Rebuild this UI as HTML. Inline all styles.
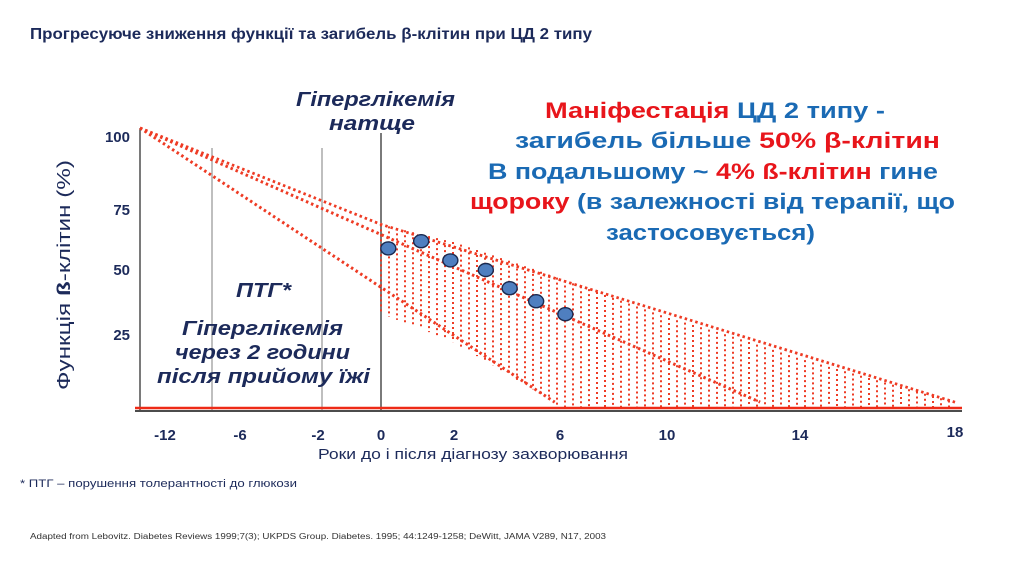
<!DOCTYPE html>
<html><head><meta charset="utf-8"><style>
html,body{margin:0;padding:0;background:#fff;}
svg{display:block;font-family:"Liberation Sans","DejaVu Sans",sans-serif;}
</style></head><body>
<svg id="chart" width="1024" height="574" viewBox="0 0 1024 574">
<text x="30" y="39" font-size="16" font-weight="bold" fill="#1c2a5a" textLength="562" lengthAdjust="spacingAndGlyphs">Прогресуюче зниження функції та загибель β-клітин при ЦД 2 типу</text>
<g id="grid"></g>
<g id="marks"></g>
<g id="axes"></g>
<text transform="translate(70,275) rotate(-90)" text-anchor="middle" font-size="18" fill="#1c2a5a" textLength="230" lengthAdjust="spacingAndGlyphs">Функція <tspan font-weight="bold">ß</tspan>-клітин (%)</text>
<text x="318" y="459" font-size="15" fill="#1c2a5a" textLength="310" lengthAdjust="spacingAndGlyphs">Роки до і після діагнозу захворювання</text>
<g font-size="20" font-weight="bold" font-style="italic" fill="#1c2a5a">
<text x="296" y="106" textLength="159" lengthAdjust="spacingAndGlyphs">Гіперглікемія</text><text x="329" y="130" textLength="86" lengthAdjust="spacingAndGlyphs">натще</text></g>
<g font-size="20" font-weight="bold" font-style="italic" fill="#1c2a5a">
<text x="236" y="297" textLength="55" lengthAdjust="spacingAndGlyphs">ПТГ*</text><text x="182" y="335" textLength="161" lengthAdjust="spacingAndGlyphs">Гіперглікемія</text><text x="175" y="359" textLength="175" lengthAdjust="spacingAndGlyphs">через 2 години</text><text x="157" y="383" textLength="213" lengthAdjust="spacingAndGlyphs">після прийому їжі</text></g>
<g font-size="22" font-weight="bold" fill="#1a6ab4">
<text x="545" y="118" textLength="340" lengthAdjust="spacingAndGlyphs"><tspan fill="#e8151b">Маніфестація</tspan> ЦД 2 типу -</text>
<text x="515" y="148" textLength="425" lengthAdjust="spacingAndGlyphs">загибель більше <tspan fill="#e8151b">50% β-клітин</tspan></text>
<text x="488" y="179" textLength="450" lengthAdjust="spacingAndGlyphs">В подальшому ~ <tspan fill="#e8151b">4% ß-клітин</tspan> гине</text>
<text x="470" y="209" textLength="485" lengthAdjust="spacingAndGlyphs"><tspan fill="#e8151b">щороку</tspan> (в залежності від терапії, що</text>
<text x="606" y="240" textLength="209" lengthAdjust="spacingAndGlyphs">застосовується)</text></g>
<text x="20" y="487" font-size="11" fill="#1c2a5a" textLength="277" lengthAdjust="spacingAndGlyphs">* ПТГ – порушення толерантності до глюкози</text>
<text x="30" y="539" font-size="8" fill="#333" textLength="576" lengthAdjust="spacingAndGlyphs">Adapted from Lebovitz. Diabetes Reviews 1999;7(3); UKPDS Group. Diabetes. 1995; 44:1249-1258; DeWitt, JAMA V289, N17, 2003</text>
</svg>
<script>
const xTicks=[-12,-6,-2,0,2,6,10,14,18];
const yTicks=[25,50,75,100];
const pointYears=[0.2,1.1,1.9,3.2,4.1,5.1,6.2];
const pointValues=[59,62,54,50,43,38,33];
const lineStart=[-13,103];
const upperMid=[0,69];
const upperEnd=[18,2];
const middleEnd=[12.8,2];
const lowerEnd=[5.8,2];
const vLines=[-13,-8,-1.5,0];
const xYearsRef=[-13,-12,-8,-6,-2,-1.5,0,2,6,10,14,18];
const xPixRef=[140,165,212,240,318,322,381,454,560,667,800,955];
const yValRef=[0,25,50,75,100,103];
const yPixRef=[408,335,270,210,137,128];
function interp(v,a,b){for(let i=0;i<a.length-1;i++){if(v<=a[i+1]||i==a.length-2){const t=(v-a[i])/(a[i+1]-a[i]);return b[i]+t*(b[i+1]-b[i]);}}}
const X=v=>interp(v,xYearsRef,xPixRef);
const Y=v=>interp(v,yValRef,yPixRef);
const NS="http://www.w3.org/2000/svg";
function mk(tag,parent,attrs){const e=document.createElementNS(NS,tag);for(const k in attrs)e.setAttribute(k,attrs[k]);parent.appendChild(e);return e;}
const grid=document.getElementById('grid'),marks=document.getElementById('marks'),axes=document.getElementById('axes');
vLines.forEach((v,i)=>{const l=mk('line',grid,{x1:X(v),x2:X(v),y1:i==0?128:(i==3?133:148),y2:410,stroke:(i==0||i==3)?'#222':'#aaa','stroke-width':(i==0||i==3)?1.2:1.5});

});
const lineY=(s,e,yr)=>s[1]+(e[1]-s[1])*(yr-s[0])/(e[0]-s[0]);
const x0=X(0),xu=X(upperEnd[0]);
for(let px=x0;px<=xu-4;px+=8){
 const yr=interp(px,xPixRef,xYearsRef);
 const top=Y(lineY(upperMid,upperEnd,yr));
 let bot=408;
 if(yr<lowerEnd[0]) bot=Y(lineY(lineStart,lowerEnd,yr));
 if(bot-top<2)continue;
 const h=mk('line',marks,{x1:px,x2:px,y1:top,y2:bot,stroke:'#ee3b24','stroke-width':2,'stroke-dasharray':'2 3'});
 
 
}
const up=mk('polyline',marks,{points:[lineStart,upperMid,upperEnd].map(p=>X(p[0])+','+Y(p[1])).join(' '),fill:'none',stroke:'#ee3b24','stroke-width':2.8,'stroke-dasharray':'2.5 3'});


[[middleEnd,'middle-decline-line'],[lowerEnd,'lower-decline-line']].forEach(([e,n])=>{
 const l=mk('line',marks,{x1:X(lineStart[0]),y1:Y(lineStart[1]),x2:X(e[0]),y2:Y(e[1]),stroke:'#ee3b24','stroke-width':3,'stroke-dasharray':'2.5 3'});
 
 
});
const b1=mk('line',axes,{x1:135,x2:962,y1:408,y2:408,stroke:'#ee2a16','stroke-width':2.5});


const b2=mk('line',axes,{x1:135,x2:962,y1:411,y2:411,stroke:'#111','stroke-width':1.5});


pointYears.forEach((yr,i)=>{const c=mk('ellipse',marks,{cx:X(yr),cy:Y(pointValues[i]),rx:7.5,ry:6.5,fill:'#4f7fc0',stroke:'#1a2a50','stroke-width':1.4});

});
xTicks.forEach(v=>{const t=mk('text',axes,{x:X(v),y:v==18?437:440,'text-anchor':'middle','font-size':15,'font-weight':'bold',fill:'#1c2a5a'});t.textContent=v;

});
yTicks.forEach(v=>{const t=mk('text',axes,{x:130,y:Y(v)+5,'text-anchor':'end','font-size':15,'font-weight':'bold',fill:'#1c2a5a'});t.textContent=v;

});
</script>
</body></html>
